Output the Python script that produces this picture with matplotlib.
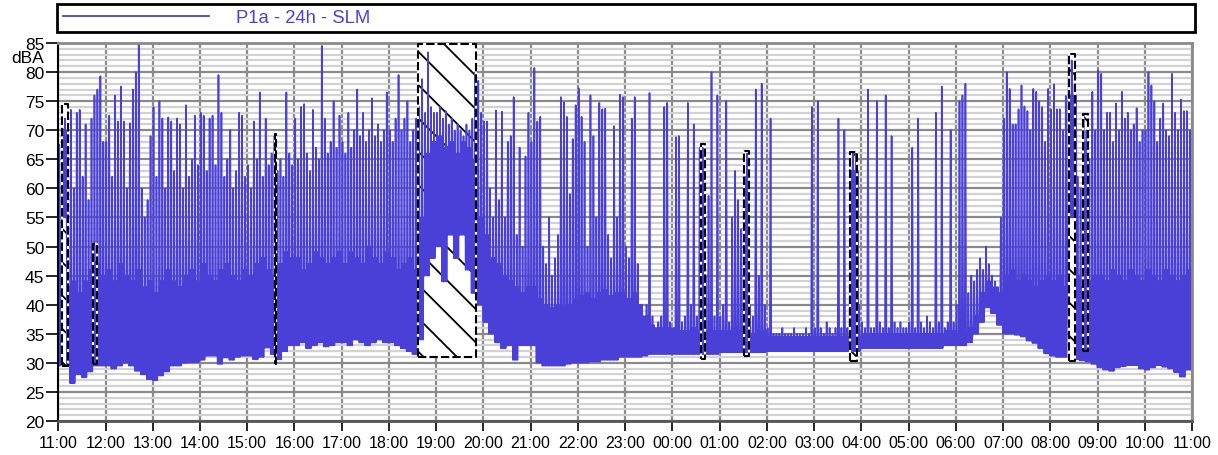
import numpy as np
import matplotlib
matplotlib.use("Agg")
import matplotlib.pyplot as plt
from matplotlib.patches import Rectangle

plt.rcParams['font.family'] = ['Liberation Sans', 'DejaVu Sans']
plt.rcParams['hatch.linewidth'] = 1.3

# ---------------- data ----------------
hour_labels = ['11:00', '12:00', '13:00', '14:00', '15:00', '16:00', '17:00', '18:00',
               '19:00', '20:00', '21:00', '22:00', '23:00', '00:00', '01:00', '02:00',
               '03:00', '04:00', '05:00', '06:00', '07:00', '08:00', '09:00', '10:00', '11:00']
y_ticks = [20, 25, 30, 35, 40, 45, 50, 55, 60, 65, 70, 75, 80, 85]

# spike peaks (dBA), 16 readings per hour starting 11:00
peak_db = [
    67.5, 74, 72, 70, 73.5, 60, 73, 73.5, 62, 71, 58, 72, 76, 77, 79.3, 68,          # 11
    68, 72.5, 62, 76, 71.5, 77.5, 71.5, 60, 71.2, 77, 80, 85, 60, 55, 58, 69,        # 12
    74, 62, 75, 72, 60, 72.2, 71.5, 63, 72, 71, 60, 74.3, 62, 65, 72.5, 64,          # 13
    73, 72.5, 63, 72, 72.5, 64, 79.5, 73, 62, 65, 70, 60, 63, 73, 72.5, 62,          # 14
    64, 60, 71.5, 65, 76.5, 62, 72, 64, 66, 69, 63, 65, 62, 76.5, 66, 64,            # 15
    72, 65, 74, 74.5, 66, 63, 73.5, 67, 65, 84.5, 72, 66, 68, 75, 67, 72.5,          # 16
    68, 66, 73, 67, 70, 77, 69, 73, 68, 70, 75.5, 69, 71, 68, 70, 76.5,              # 17
    70, 68, 72, 79.5, 70, 72, 75, 68, 70, 72, 74, 78.8, 73, 83.4, 74, 73,            # 18
    73, 74, 72, 73.3, 71, 72, 70, 71, 70, 69, 71, 70, 72, 80, 78.5, 73,              # 19
    71.5, 71.5, 60, 55, 73.4, 58, 73.2, 55, 68, 69, 75.7, 52, 67, 50, 65.5, 73,      # 20
    68, 80.7, 71.5, 72.3, 50, 47, 55, 45, 48, 52, 75.7, 74.8, 72.3, 59, 68.5, 74.3,  # 21
    77.2, 72.3, 68, 50, 76, 69, 55, 74.7, 73.6, 73.7, 52, 48, 70.7, 55, 76.1, 75.7,  # 22
    50, 48, 72, 75.7, 47, 38, 37, 40, 76.4, 38, 36, 37, 38, 74, 74.7, 37,            # 23
    36, 68.8, 69, 37, 38, 74.7, 40, 71, 38, 67, 67, 45, 58.7, 80, 38, 76,            # 00
    38, 40, 75, 37, 55, 63, 58, 53, 66.5, 66, 40, 38, 77, 45, 78, 40,                # 01
    36, 72, 35, 35, 35, 36, 35, 35, 35, 36, 35, 35, 35, 36, 35, 74,                  # 02
    36, 75, 36, 35, 37, 36, 35, 36, 72, 36, 70, 36, 66, 66, 66, 40,                  # 03
    37, 36, 77, 36, 36, 75, 37, 36, 76, 36, 69, 37, 36, 37, 36, 36,                  # 04
    37, 67, 36, 72, 37, 36, 38, 37, 36, 73, 37, 77.5, 36, 37, 70, 37,                # 05
    40, 75, 76, 78, 42, 45, 44, 46, 48, 46, 50, 47, 45, 44, 43, 55,                  # 06
    72, 80, 77.1, 71, 71, 73.6, 77.7, 74.1, 73.3, 70, 77.1, 76.6, 75, 74, 68, 77.1,  # 07
    73.6, 77.9, 73.6, 73.6, 70, 75.9, 83, 82, 78, 62, 60, 72.8, 70, 65, 76.6, 70,    # 08
    80.3, 79.7, 70, 73, 73, 68, 74.6, 70, 76.6, 72, 73, 70, 71, 73.8, 68, 70,        # 09
    70, 80, 77.7, 75, 68, 72, 74.6, 70, 69, 79.7, 73, 70, 75.3, 73.3, 73.3, 70,      # 10
]

# lower envelope (dBA), 8 readings per hour from 11:00
floor_db = [
    29.5, 29.5, 26.5, 28, 27.5, 28.5, 29.5, 29.5,      # 11
    29.5, 29, 29.5, 30, 29.5, 28.6, 28, 27.2,          # 12
    27, 27.8, 28.5, 29.5, 29.5, 30, 30.1, 30.1,        # 13
    30.5, 31.2, 31.2, 29.8, 30.9, 30.5, 31, 31.2,      # 14
    31.2, 30.6, 31, 32.6, 31.5, 30.6, 32, 33,          # 15
    33, 33.5, 32.5, 33, 33.5, 32.8, 33, 33.5,          # 16
    33.5, 33, 34, 33.5, 33, 33.5, 34, 33.5,            # 17
    33.5, 33, 32.5, 32, 31.5, 34, 45, 48,              # 18
    50, 44, 52, 48, 52, 46, 42, 40,                    # 19
    37, 35, 33.5, 32.5, 33, 30.5, 33, 33,              # 20
    33, 30, 29.5, 29.5, 29.5, 29.5, 29.8, 30,          # 21
    30, 30, 30.2, 30.2, 30.5, 30.5, 30.5, 31,          # 22
    31, 31, 31, 31.2, 31.5, 31.5, 31.5, 31.5,          # 23
    31.5, 31.5, 31.5, 31.5, 31.5, 31.5, 31.5, 31.5,    # 00
    31.8, 31.8, 31.8, 31.8, 31.8, 31.8, 31.8, 31.8,    # 01
    32, 32, 32, 32, 32, 32, 32, 32,                    # 02
    32, 32, 32, 32, 32, 32, 32, 32,                    # 03
    32.5, 32.5, 32.5, 32.5, 32.5, 32.5, 32.5, 32.5,    # 04
    32.5, 32.5, 32.5, 32.5, 32.5, 32.5, 33, 33,        # 05
    33, 33, 33.5, 35, 37, 39.5, 38.5, 36.5,            # 06
    35, 35, 34.8, 34.5, 33.8, 33.4, 32.5, 31.6,        # 07
    31.2, 31, 31, 31, 30.6, 30.4, 30.2, 29.8,          # 08
    29.2, 28.8, 28.6, 29.2, 29.4, 29.6, 29.6, 29,      # 09
    28.8, 29.2, 29.6, 29.3, 29, 28.4, 27.6, 28.8,      # 10
]

# top of the dense band (dBA), 8 readings per hour from 11:00
band_db = [
    45, 43, 44, 42, 44, 46, 47, 45,                    # 11
    46, 44, 47, 45, 44, 46, 43, 44,                    # 12
    42, 44, 46, 44, 43, 45, 46, 44,                    # 13
    47, 45, 44, 46, 47, 45, 44, 46,                    # 14
    45, 47, 48, 46, 45, 47, 49, 48,                    # 15
    48, 46, 47, 49, 48, 47, 48, 49,                    # 16
    47, 49, 48, 47, 50, 48, 47, 49,                    # 17
    48, 46, 47, 48, 46, 55, 66, 68,                    # 18
    69, 67, 68, 66, 68, 67, 65, 55,                    # 19
    52, 48, 47, 45, 44, 43, 42, 43,                    # 20
    43, 41, 40, 39.5, 40, 39.5, 40, 41,                # 21
    41.5, 42, 41, 42, 42.5, 41.5, 42, 42,              # 22
    41, 42, 40, 38, 36.5, 36, 36, 36,                  # 23
    36, 35.5, 35.5, 36, 35.5, 35.5, 35.5, 35.5,        # 00
    35.5, 35.5, 36, 35.5, 35.5, 35, 35.5, 35.5,        # 01
    34.5, 34.5, 34.5, 34.5, 34.5, 34.5, 34.5, 34.5,    # 02
    34.5, 34.5, 34.5, 34.5, 34.5, 34.5, 35, 34.5,      # 03
    35, 35, 35, 35, 35, 35, 35, 35,                    # 04
    35, 35, 35, 35, 35, 35, 35.5, 35.5,                # 05
    35, 35, 36, 38, 42, 44, 43, 42,                    # 06
    45, 46, 44, 45, 44, 43, 44, 45,                    # 07
    44, 45, 43, 44, 45, 43, 44, 45,                    # 08
    45, 44, 46, 45, 44, 46, 45, 44,                    # 09
    46, 45, 44, 46, 45, 44, 45, 46,                    # 10
]

# marked (hatched) periods
event_start = ['11:05', '11:44', '15:35', '18:37', '00:36', '01:31', '03:45', '08:24', '08:41']
event_end = ['11:12', '11:49', '15:37', '19:50', '00:41', '01:37', '03:55', '08:32', '08:48']
event_low_db = [29.5, 29.8, 29.8, 31.0, 30.7, 31.2, 30.4, 30.4, 32.1]
event_high_db = [74.5, 50.4, 69.4, 84.8, 67.6, 66.5, 66.2, 83.1, 72.8]
event_sig_floor_db = [55, 0, 0, 0, 0, 0, 0, 55, 0]
event_sig_top_db = [70, 45, 65, 0, 64, 62, 63, 76, 68]

series_label = 'P1a - 24h - SLM'
blue = '#4a40d8'


def hours_after_11(s):
    h, m = map(int, s.split(':'))
    return ((h - 11) % 24) + m / 60.0


n = len(peak_db)
slot = 24.0 / n
edges = np.arange(n + 1) * slot
centers = edges[:-1] + slot / 2
fl = np.repeat(np.asarray(floor_db, float), n // len(floor_db))
bt = np.repeat(np.asarray(band_db, float), n // len(band_db))
ev_s = np.array([hours_after_11(s) for s in event_start])
ev_e = np.array([hours_after_11(s) for s in event_end])
for s, e, f, t in zip(ev_s, ev_e, event_sig_floor_db, event_sig_top_db):
    inside = (centers >= s) & (centers <= e)
    fl[inside] = np.maximum(fl[inside], f)
    bt[inside] = np.maximum(bt[inside], t)
pk = np.maximum(np.asarray(peak_db, float), bt)

# trace: floor -> peak -> floor -> band level, for every reading slot
xz = np.column_stack([edges[:-1], edges[:-1] + slot * 0.25,
                      edges[:-1] + slot * 0.5, edges[:-1] + slot * 0.75]).ravel()
yz = np.column_stack([fl, pk, fl, bt]).ravel()
xz = np.append(xz, edges[-1])
yz = np.append(yz, fl[-1])

# ---------------- figure ----------------
W, H = 1218, 456
fig = plt.figure(figsize=(W / 100, H / 100), dpi=100)
L, R, T, B = 58.3, 1192, 44, 422
ax = fig.add_axes([L / W, 1 - B / H, (R - L) / W, (B - T) / H])
ax.set_xlim(0, 24)
ax.set_ylim(20, 85)

ax.set_yticks(y_ticks)
ax.set_yticks(np.arange(20, 86, 1), minor=True)
ax.set_xticks(np.arange(len(hour_labels)))
ax.set_xticklabels(hour_labels)
ax.grid(which='minor', axis='y', color='#d2d2d2', lw=1.6, zorder=0)
ax.grid(which='major', axis='y', color='#8a8a8a', lw=1.6, zorder=0)
ax.grid(which='major', axis='x', color='#8a8a8a', lw=1.6, zorder=0)
ax.set_axisbelow(True)
ax.tick_params(which='minor', length=0)
ax.tick_params(axis='y', which='major', direction='out', length=9, width=1.2,
               labelsize=12.5, pad=1)
ax.tick_params(axis='x', which='major', direction='out', length=7, width=1.2,
               labelsize=11.5, pad=3, colors='black')
for side in ['top', 'right']:
    ax.spines[side].set_color('#8a8a8a')
    ax.spines[side].set_linewidth(2)
ax.spines['left'].set_color('black')
ax.spines['left'].set_linewidth(1.5)
ax.spines['bottom'].set_color('#555555')
ax.spines['bottom'].set_linewidth(2)

# hatched event rectangles (background)
for s, e, lo, hi in zip(ev_s, ev_e, event_low_db, event_high_db):
    ax.add_patch(Rectangle((s, lo), e - s, hi - lo, facecolor='white',
                           edgecolor='black', hatch='\\', lw=0, zorder=1))

# signal
line, = ax.plot(xz, yz, color=blue, lw=1.2, zorder=2, label=series_label)

# dashed borders of events (on top)
for s, e, lo, hi in zip(ev_s, ev_e, event_low_db, event_high_db):
    ax.plot([s, e, e, s, s], [lo, lo, hi, hi, lo], color='black', lw=1.5,
            linestyle=(0, (4, 1.5)), gapcolor='white', zorder=3)

fig.text(43.5 / W, 1 - 58.5 / H, 'dBA', ha='right', va='center', fontsize=12.5)

leg = ax.legend(handles=[line], loc='lower left',
                bbox_to_anchor=((57.3 - L) / (R - L), (B - 32.7) / (B - T),
                                (1195 - 57.3) / (R - L), (32.7 - 5) / (B - T)),
                mode='expand', borderaxespad=0, fancybox=False, framealpha=1,
                edgecolor='black', fontsize=13.3, handlelength=7.9,
                handletextpad=1.5, borderpad=0.3, labelcolor='linecolor')
leg.get_frame().set_linewidth(2)
leg.get_lines()[0].set_linewidth(1.3)

fig.savefig('out.png', dpi=100)
